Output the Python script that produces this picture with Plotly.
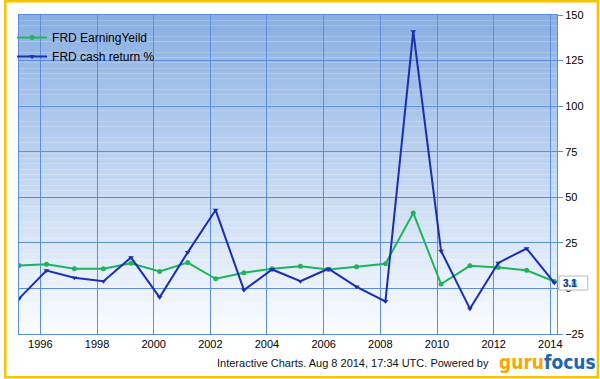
import plotly.graph_objects as go

# ---- data ----
dates = ["1995-04-01", "1996-03-20", "1997-03-15", "1998-03-25", "1999-03-15",
         "2000-03-18", "2001-03-15", "2002-03-10", "2003-03-10", "2004-03-07",
         "2005-03-07", "2006-03-03", "2007-03-01", "2008-03-07", "2009-03-01",
         "2010-02-22", "2011-03-01", "2012-03-01", "2013-03-01", "2014-02-22"]
earning_yield = [12.6, 13.3, 10.8, 10.8, 13.8, 9.3, 14.2, 5.3, 8.6, 10.8,
                 12.2, 10.4, 11.9, 13.5, 41.4, 2.4, 12.4, 11.5, 10.0, 3.8]
cash_return = [-5.6, 9.8, 5.9, 3.9, 17.0, -4.9, 19.8, 43.0, -0.9, 10.4,
               4.0, 10.8, 0.9, -7.1, 141.0, 20.6, -11.1, 14.0, 21.9, 3.1]
series_names = ["FRD EarningYeild", "FRD cash return %"]
y_ticks = [-25, 0, 25, 50, 75, 100, 125, 150]
x_ticks = ["1996", "1998", "2000", "2002", "2004", "2006", "2008", "2010", "2012", "2014"]

W, H = 600, 379
ML, MR, MT, MB = 15, 43, 15, 45
PW, PH = W - ML - MR, H - MT - MB

def px_x(p):
    return (p - ML) / PW

def px_y(p):
    return (H - MB - p) / PH

GREEN = "#1fb45a"
BLUE = "#1a2db4"
GRID = "#5b8fdc"

fig = go.Figure()
fig.add_trace(go.Scatter(x=dates, y=earning_yield, name=series_names[0], mode="lines+markers",
                         line=dict(color=GREEN, width=2), marker=dict(symbol="circle", size=5, color=GREEN)))
fig.add_trace(go.Scatter(x=dates, y=cash_return, name=series_names[1], mode="lines+markers",
                         line=dict(color=BLUE, width=2), marker=dict(symbol="triangle-down", size=5, color=BLUE)))

shapes = []
# gradient background of plot area
top = (138, 175, 226)
bot = (250, 252, 255)
N = 60
for i in range(N):
    t = i / (N - 1)
    c = tuple(round(top[k] + (bot[k] - top[k]) * t) for k in range(3))
    shapes.append(dict(type="rect", xref="x domain", yref="y domain", x0=0, x1=1,
                       y0=1 - (i + 1) / N, y1=1 - i / N, fillcolor="rgb(%d,%d,%d)" % c,
                       line=dict(width=0), layer="below"))
# outer gold frame
shapes.append(dict(type="rect", xref="paper", yref="paper",
                   x0=px_x(1.2), x1=px_x(W - 1.8), y0=px_y(H - 1.8), y1=px_y(1.2),
                   line=dict(color="#f7c400", width=2.5), fillcolor="rgba(0,0,0,0)", layer="above"))
# last value box
shapes.append(dict(type="rect", xref="paper", yref="paper",
                   x0=px_x(559), x1=px_x(588), y0=px_y(290), y1=px_y(276),
                   line=dict(color="#b8b8b8", width=1), fillcolor="white", layer="above"))

annotations = [
    dict(xref="paper", yref="paper", x=px_x(561), y=px_y(283), xanchor="left", yanchor="middle",
         text="<b>%.1f</b>" % earning_yield[-1], showarrow=False,
         font=dict(family="Liberation Sans, Arial", size=10, color=GREEN)),
    dict(xref="paper", yref="paper", x=px_x(561), y=px_y(283), xanchor="left", yanchor="middle",
         text="<b>%.1f</b>" % cash_return[-1], showarrow=False,
         font=dict(family="Liberation Sans, Arial", size=10, color=BLUE)),
    dict(xref="paper", yref="paper", x=px_x(491), y=px_y(363), xanchor="right", yanchor="middle",
         text="Interactive Charts. Aug 8 2014, 17:34 UTC. Powered by", showarrow=False,
         font=dict(family="Liberation Sans, Arial", size=11, color="#111111")),
    dict(xref="paper", yref="paper", x=px_x(547), y=px_y(362), xanchor="center", yanchor="middle",
         text="<span style='color:#f5a800'>guru</span><span style='color:#1e64b4'>focus</span>",
         showarrow=False,
         font=dict(family="Liberation Sans Narrow, DejaVu Sans Condensed, Liberation Sans", size=19,
                   weight="bold")),
]

fig.update_layout(
    template="none",
    width=W, height=H,
    autosize=False,
    margin=dict(l=ML, r=MR, t=MT, b=MB, pad=0),
    paper_bgcolor="white", plot_bgcolor="rgba(0,0,0,0)",
    font=dict(family="Liberation Sans, Arial", size=11, color="#000000"),
    showlegend=True,
    legend=dict(x=px_x(8), y=px_y(23), xanchor="left", yanchor="top", bgcolor="rgba(0,0,0,0)",
                font=dict(size=12, color="#000000"), tracegroupgap=0, itemwidth=30),
    shapes=shapes, annotations=annotations,
    xaxis=dict(type="date", range=["1995-04-01", "2014-03-28"], automargin=False,
               tickvals=[x + "-01-01" for x in x_ticks], ticktext=x_ticks,
               showgrid=True, gridcolor=GRID, gridwidth=1,
               showline=True, linecolor=GRID, linewidth=1, mirror=True,
               ticks="", tickfont=dict(size=11), zeroline=False),
    yaxis=dict(range=[-25, 150], tickvals=y_ticks, side="right", automargin=False,
               showgrid=True, gridcolor=GRID, gridwidth=1,
               showline=True, linecolor=GRID, linewidth=1, mirror=True,
               ticks="outside", ticklen=5, tickcolor=GRID, tickfont=dict(size=11),
               zeroline=False),
)

fig.write_html("out.html", config={"responsive": False, "displayModeBar": False},
               post_script="document.body.style.margin='0';")
